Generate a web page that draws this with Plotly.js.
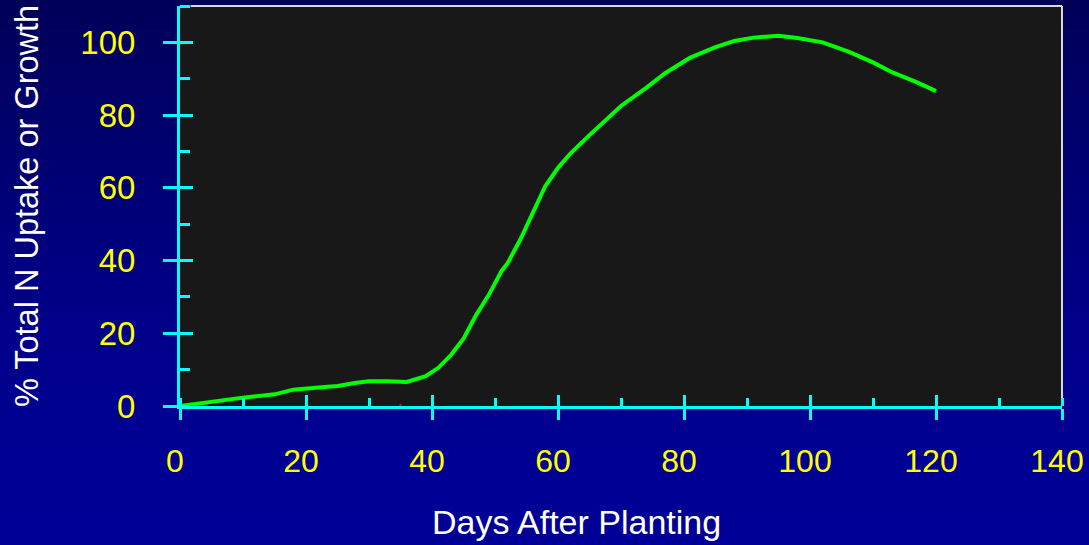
<!DOCTYPE html>
<html>
<head>
<meta charset="utf-8">
<script src="https://cdn.plot.ly/plotly-3.0.1.min.js"></script>
<style>
  html, body { margin:0; padding:0; width:1089px; height:545px; overflow:hidden;
    background: linear-gradient(to bottom, #000058 0%, #00008a 60%, #000098 100%); }
  #chart { width:1089px; height:545px; }
</style>
</head>
<body>
<div id="chart"></div>
<script>
// Days after planting and % total N uptake / growth (green curve)
const days = [0,5,10,15,18,22,25,28,30,33,36,39,41,43,45,47,49,51,52,54,56,58,60,62,65,67,70,74,77,81,85,88,91,95,98,102,106,110,113,117,120];
const uptake = [0,1.2,2.3,3.2,4.5,5.1,5.5,6.4,6.8,6.8,6.6,8.2,10.5,14,18.5,25,30.5,37,39.3,45.7,53,60.5,65.5,69.5,74.5,77.8,82.5,87.5,91.5,95.8,98.7,100.4,101.3,101.8,101.2,100,97.5,94.5,91.8,89,86.6];
// Faint red series mostly hidden under the x axis
const redDays = [0,5,null,35,35];
const redVals = [0,-0.4,null,-0.6,0.6];

const xTicks = [0,20,40,60,80,100,120,140];
const yTicks = [0,20,40,60,80,100];

const FONT = 'Liberation Sans, Arial, sans-serif';
const CYAN = '#00ffff';

const traces = [
  { x: redDays, y: redVals, xaxis:'x2', yaxis:'y2', mode:'lines',
    line:{color:'#ff0000', width:2}, hoverinfo:'skip', showlegend:false, connectgaps:false },
  { x: days, y: uptake, mode:'lines', line:{color:'#00ff00', width:4}, showlegend:false }
];

const layout = {
  width:1089, height:545,
  margin:{l:180, r:27, t:6, b:139},
  paper_bgcolor:'rgba(0,0,0,0)',
  plot_bgcolor:'#181818',
  font:{family:FONT, color:'#ffff00', size:33},
  xaxis:{
    range:[0,140], tickvals:xTicks, ticktext:xTicks.map(String),
    showgrid:false, zeroline:false,
    showline:true, linecolor:CYAN, linewidth:3,
    ticks:'outside', ticklen:11, tickwidth:3, tickcolor:CYAN,
    minor:{tick0:0, dtick:10, ticks:'inside', ticklen:8, tickwidth:3, tickcolor:CYAN},
    tickfont:{family:FONT, size:32, color:'#ffff00'},
    ticklabelstandoff:14, ticklabelshift:-5, ticklabeloverflow:'allow'
  },
  yaxis:{
    range:[0,110], tickvals:yTicks, ticktext:yTicks.map(String),
    showgrid:false, zeroline:false,
    showline:true, linecolor:CYAN, linewidth:3,
    ticks:'outside', ticklen:14, tickwidth:3, tickcolor:CYAN,
    minor:{tick0:0, dtick:10, ticks:'inside', ticklen:10, tickwidth:3, tickcolor:CYAN},
    tickfont:{family:FONT, size:33, color:'#ffff00'},
    ticklabelstandoff:21, ticklabeloverflow:'allow',
    title:{text:'% Total N Uptake or Growth', font:{family:FONT, size:32.5, color:'#ffffff'}, standoff:32}
  },
  xaxis2:{
    overlaying:'x', matches:'x', range:[0,140], tickvals:xTicks, showticklabels:false,
    showgrid:false, zeroline:false, showline:false,
    ticks:'inside', ticklen:11, tickwidth:3, tickcolor:CYAN
  },
  yaxis2:{
    overlaying:'y', matches:'y', range:[0,110], tickvals:yTicks, showticklabels:false,
    showgrid:false, zeroline:false, showline:false,
    ticks:'inside', ticklen:13, tickwidth:3, tickcolor:CYAN
  },
  shapes:[
    {type:'line', xref:'paper', yref:'paper', x0:0.012, x1:1, y0:1, y1:1, line:{color:'#d8d8d8', width:2}, layer:'above'},
    {type:'line', xref:'paper', yref:'paper', x0:1, x1:1, y0:0, y1:1, line:{color:'#d8d8d8', width:2}, layer:'below'}
  ],
  annotations:[
    {text:'Days After Planting', xref:'paper', yref:'paper', x:0.45, y:-0.29,
     xanchor:'center', yanchor:'middle', showarrow:false,
     font:{family:FONT, size:34, color:'#ffffff'}}
  ]
};

Plotly.newPlot('chart', traces, layout, {displayModeBar:false, staticPlot:true});
</script>
</body>
</html>
